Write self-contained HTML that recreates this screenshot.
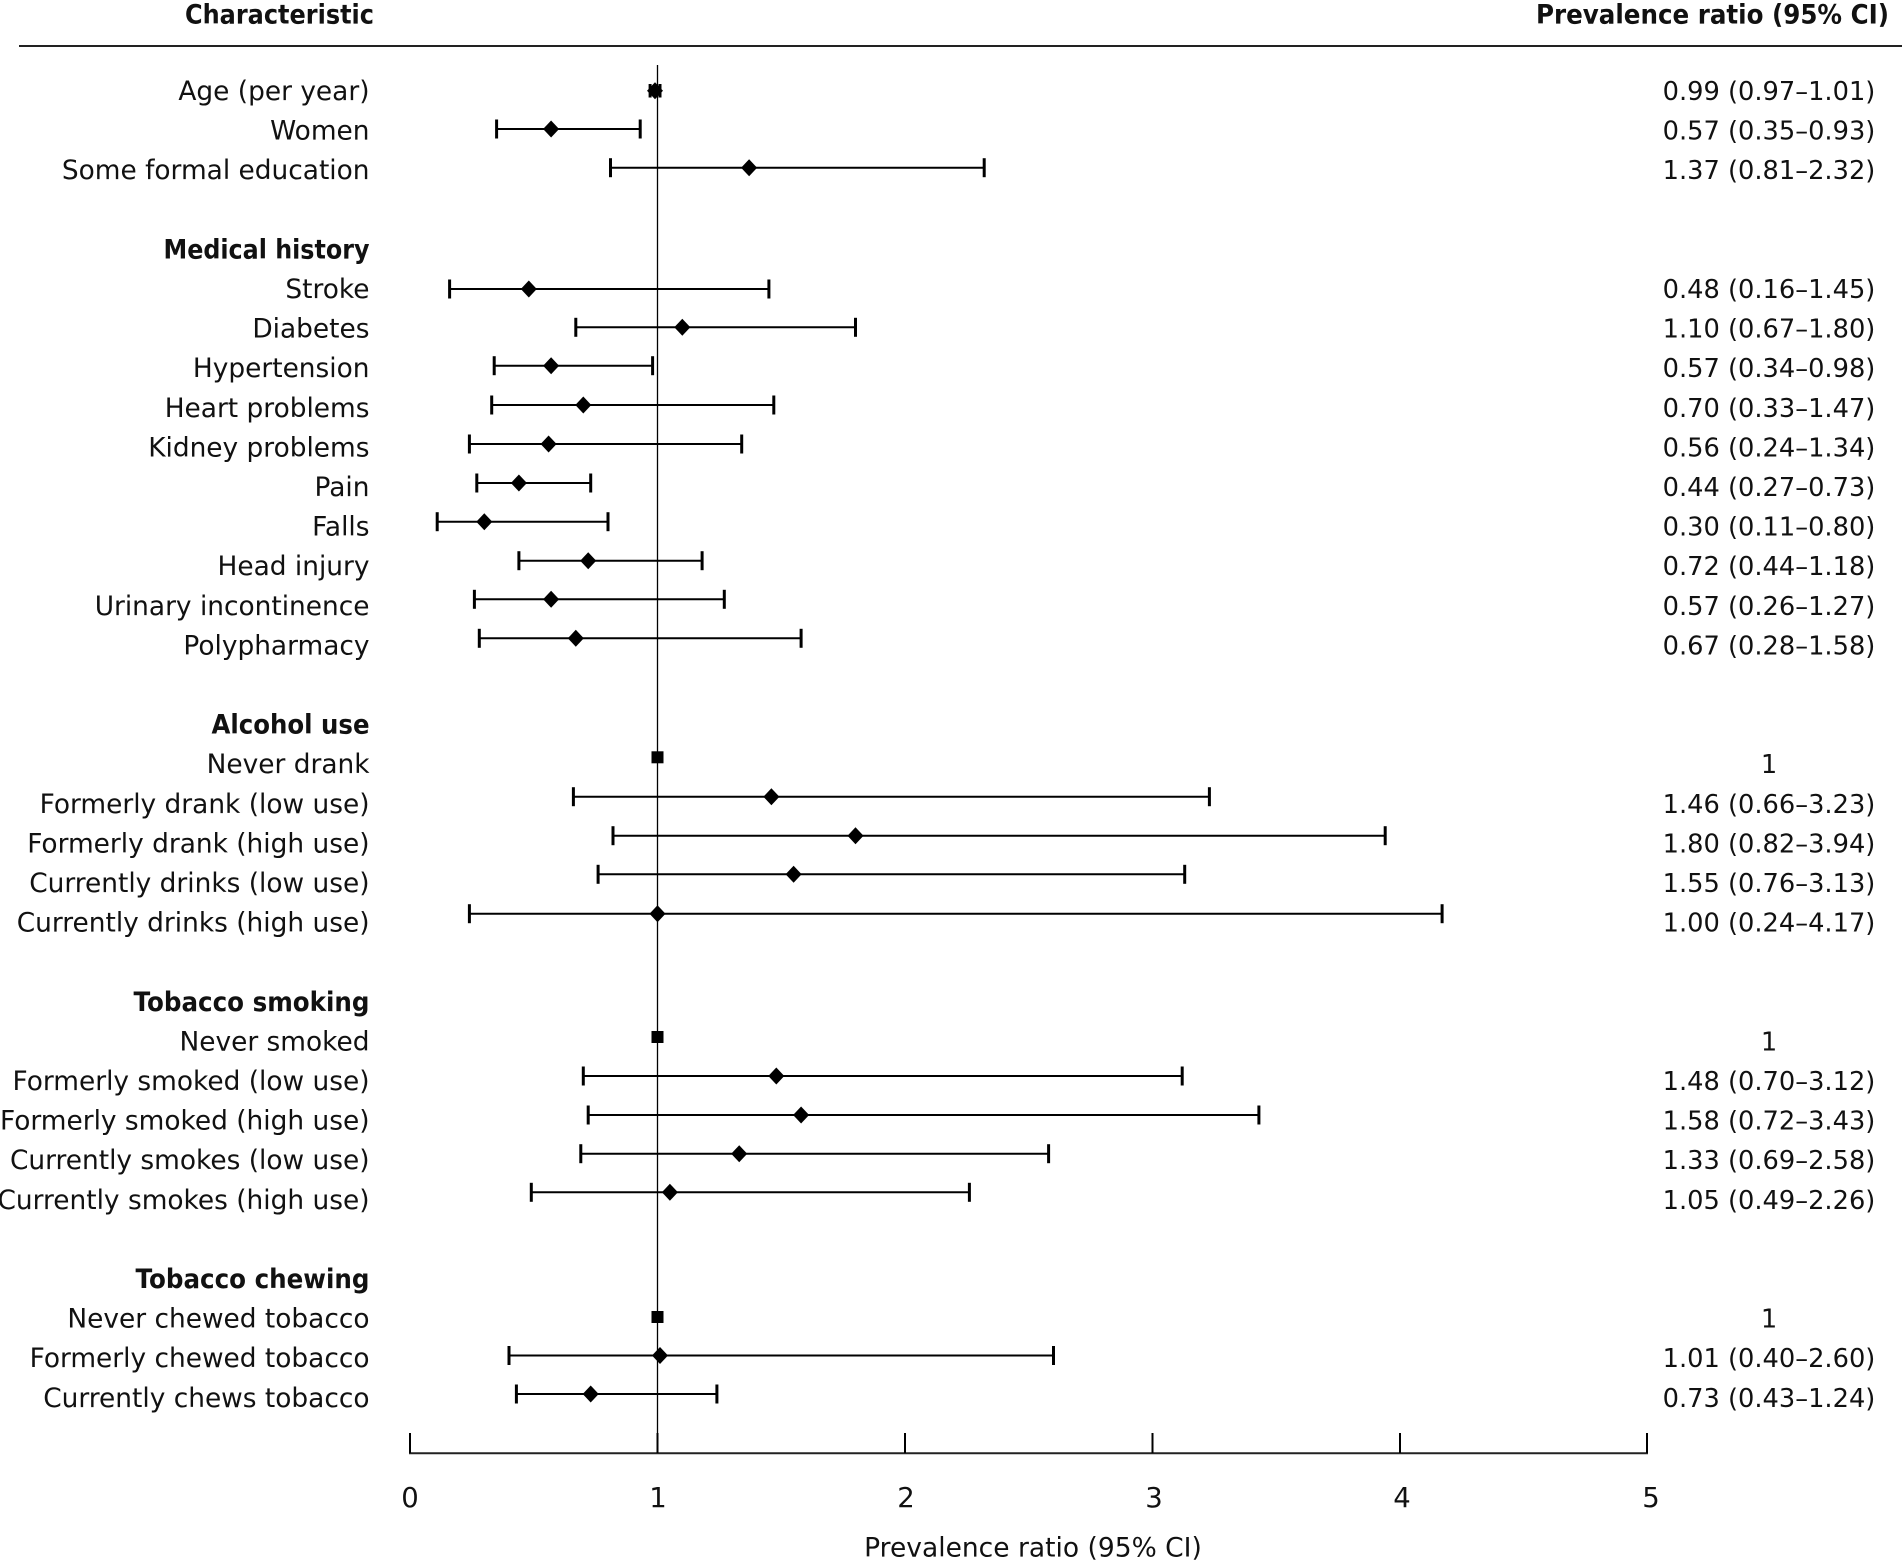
<!DOCTYPE html>
<html><head><meta charset="utf-8"><style>
html,body{margin:0;padding:0;background:#fff;}
svg{display:block;}
text{font-family:"DejaVu Sans","Liberation Sans",sans-serif;fill:#111;}
.l{font-size:26.4px;text-anchor:end;}
.b{font-size:26.5px;font-weight:bold;}
.v{font-size:25.7px;text-anchor:middle;}
.at{font-size:26.5px;text-anchor:middle;}
.t{font-size:27.5px;text-anchor:middle;}
.bar{stroke:#000;stroke-width:2;}
.cap{stroke:#000;stroke-width:3;}
</style></head><body>
<svg width="1902" height="1563" viewBox="0 0 1902 1563" xmlns="http://www.w3.org/2000/svg">
<!-- headers -->
<text class="b" x="374" y="23.3" text-anchor="end" textLength="189" lengthAdjust="spacingAndGlyphs">Characteristic</text>
<text class="b" x="1536" y="23.3" textLength="353" lengthAdjust="spacingAndGlyphs">Prevalence ratio (95% CI)</text>
<line x1="19" y1="46" x2="1902" y2="46" stroke="#222" stroke-width="2"/>

<!-- reference line -->
<line x1="657.5" y1="65" x2="657.5" y2="1453" stroke="#000" stroke-width="1.3"/>

<!-- axis -->
<line x1="409" y1="1453.3" x2="1648" y2="1453.3" stroke="#222" stroke-width="2"/>
<g stroke="#000" stroke-width="2">
<line x1="410" y1="1433" x2="410" y2="1453"/>
<line x1="657.5" y1="1433" x2="657.5" y2="1453"/>
<line x1="905" y1="1433" x2="905" y2="1453"/>
<line x1="1152.5" y1="1433" x2="1152.5" y2="1453"/>
<line x1="1400" y1="1433" x2="1400" y2="1453"/>
<line x1="1647" y1="1433" x2="1647" y2="1453"/>
</g>
<text class="t" x="410" y="1507">0</text>
<text class="t" x="658" y="1507">1</text>
<text class="t" x="906" y="1507">2</text>
<text class="t" x="1154" y="1507">3</text>
<text class="t" x="1402" y="1507">4</text>
<text class="t" x="1651" y="1507">5</text>
<text class="at" x="1033" y="1556.7">Prevalence ratio (95% CI)</text>

<!-- labels -->
<text class="l" x="369.5" y="100">Age (per year)</text>
<text class="l" x="369.5" y="139.6">Women</text>
<text class="l" x="369.5" y="179.2">Some formal education</text>
<text class="b" x="369.5" y="258.4" text-anchor="end" textLength="206" lengthAdjust="spacingAndGlyphs">Medical history</text>
<text class="l" x="369.5" y="298">Stroke</text>
<text class="l" x="369.5" y="337.6">Diabetes</text>
<text class="l" x="369.5" y="377.2">Hypertension</text>
<text class="l" x="369.5" y="416.8">Heart problems</text>
<text class="l" x="369.5" y="456.4">Kidney problems</text>
<text class="l" x="369.5" y="496">Pain</text>
<text class="l" x="369.5" y="535.6">Falls</text>
<text class="l" x="369.5" y="575.2">Head injury</text>
<text class="l" x="369.5" y="614.8">Urinary incontinence</text>
<text class="l" x="369.5" y="654.4">Polypharmacy</text>
<text class="b" x="369.5" y="733.6" text-anchor="end" textLength="158" lengthAdjust="spacingAndGlyphs">Alcohol use</text>
<text class="l" x="369.5" y="773.2">Never drank</text>
<text class="l" x="369.5" y="812.8">Formerly drank (low use)</text>
<text class="l" x="369.5" y="852.4">Formerly drank (high use)</text>
<text class="l" x="369.5" y="892">Currently drinks (low use)</text>
<text class="l" x="369.5" y="931.6">Currently drinks (high use)</text>
<text class="b" x="369.5" y="1010.8" text-anchor="end" textLength="236" lengthAdjust="spacingAndGlyphs">Tobacco smoking</text>
<text class="l" x="369.5" y="1050.4">Never smoked</text>
<text class="l" x="369.5" y="1090">Formerly smoked (low use)</text>
<text class="l" x="369.5" y="1129.6">Formerly smoked (high use)</text>
<text class="l" x="369.5" y="1169.2">Currently smokes (low use)</text>
<text class="l" x="369.5" y="1208.8">Currently smokes (high use)</text>
<text class="b" x="369.5" y="1288" text-anchor="end" textLength="234" lengthAdjust="spacingAndGlyphs">Tobacco chewing</text>
<text class="l" x="369.5" y="1327.6">Never chewed tobacco</text>
<text class="l" x="369.5" y="1367.2">Formerly chewed tobacco</text>
<text class="l" x="369.5" y="1406.8">Currently chews tobacco</text>

<!-- values -->
<text class="v" x="1769" y="100">0.99 (0.97–1.01)</text>
<text class="v" x="1769" y="139.6">0.57 (0.35–0.93)</text>
<text class="v" x="1769" y="179.2">1.37 (0.81–2.32)</text>
<text class="v" x="1769" y="298">0.48 (0.16–1.45)</text>
<text class="v" x="1769" y="337.6">1.10 (0.67–1.80)</text>
<text class="v" x="1769" y="377.2">0.57 (0.34–0.98)</text>
<text class="v" x="1769" y="416.8">0.70 (0.33–1.47)</text>
<text class="v" x="1769" y="456.4">0.56 (0.24–1.34)</text>
<text class="v" x="1769" y="496">0.44 (0.27–0.73)</text>
<text class="v" x="1769" y="535.6">0.30 (0.11–0.80)</text>
<text class="v" x="1769" y="575.2">0.72 (0.44–1.18)</text>
<text class="v" x="1769" y="614.8">0.57 (0.26–1.27)</text>
<text class="v" x="1769" y="654.4">0.67 (0.28–1.58)</text>
<text class="v" x="1769" y="773.2">1</text>
<text class="v" x="1769" y="812.8">1.46 (0.66–3.23)</text>
<text class="v" x="1769" y="852.4">1.80 (0.82–3.94)</text>
<text class="v" x="1769" y="892">1.55 (0.76–3.13)</text>
<text class="v" x="1769" y="931.6">1.00 (0.24–4.17)</text>
<text class="v" x="1769" y="1050.4">1</text>
<text class="v" x="1769" y="1090">1.48 (0.70–3.12)</text>
<text class="v" x="1769" y="1129.6">1.58 (0.72–3.43)</text>
<text class="v" x="1769" y="1169.2">1.33 (0.69–2.58)</text>
<text class="v" x="1769" y="1208.8">1.05 (0.49–2.26)</text>
<text class="v" x="1769" y="1327.6">1</text>
<text class="v" x="1769" y="1367.2">1.01 (0.40–2.60)</text>
<text class="v" x="1769" y="1406.8">0.73 (0.43–1.24)</text>

<!-- error bars -->
<g>
<line class="bar" x1="650.1" y1="90.7" x2="660" y2="90.7"/>
<line class="cap" x1="650.1" y1="84" x2="650.1" y2="97.5"/><line class="cap" x1="660" y1="84" x2="660" y2="97.5"/>
<path d="M655,82.2 L663,90.7 L655,99.2 L647,90.7 Z"/>
<line class="bar" x1="496.6" y1="129" x2="640.2" y2="129"/>
<line class="cap" x1="496.6" y1="119.5" x2="496.6" y2="138.5"/><line class="cap" x1="640.2" y1="119.5" x2="640.2" y2="138.5"/>
<path d="M551.1,120.5 L559.1,129 L551.1,137.5 L543.1,129 Z"/>
<line class="bar" x1="610.5" y1="167.7" x2="984.2" y2="167.7"/>
<line class="cap" x1="610.5" y1="158.2" x2="610.5" y2="177.2"/><line class="cap" x1="984.2" y1="158.2" x2="984.2" y2="177.2"/>
<path d="M749.1,159.2 L757.1,167.7 L749.1,176.2 L741.1,167.7 Z"/>
<line class="bar" x1="449.6" y1="289" x2="768.9" y2="289"/>
<line class="cap" x1="449.6" y1="279.5" x2="449.6" y2="298.5"/><line class="cap" x1="768.9" y1="279.5" x2="768.9" y2="298.5"/>
<path d="M528.8,280.5 L536.8,289 L528.8,297.5 L520.8,289 Z"/>
<line class="bar" x1="575.8" y1="327.3" x2="855.5" y2="327.3"/>
<line class="cap" x1="575.8" y1="317.8" x2="575.8" y2="336.8"/><line class="cap" x1="855.5" y1="317.8" x2="855.5" y2="336.8"/>
<path d="M682.3,318.8 L690.3,327.3 L682.3,335.8 L674.3,327.3 Z"/>
<line class="bar" x1="494.2" y1="365.7" x2="652.6" y2="365.7"/>
<line class="cap" x1="494.2" y1="356.2" x2="494.2" y2="375.2"/><line class="cap" x1="652.6" y1="356.2" x2="652.6" y2="375.2"/>
<path d="M551.1,357.2 L559.1,365.7 L551.1,374.2 L543.1,365.7 Z"/>
<line class="bar" x1="491.7" y1="405" x2="773.8" y2="405"/>
<line class="cap" x1="491.7" y1="395.5" x2="491.7" y2="414.5"/><line class="cap" x1="773.8" y1="395.5" x2="773.8" y2="414.5"/>
<path d="M583.3,396.5 L591.3,405 L583.3,413.5 L575.3,405 Z"/>
<line class="bar" x1="469.4" y1="444" x2="741.7" y2="444"/>
<line class="cap" x1="469.4" y1="434.5" x2="469.4" y2="453.5"/><line class="cap" x1="741.7" y1="434.5" x2="741.7" y2="453.5"/>
<path d="M548.6,435.5 L556.6,444 L548.6,452.5 L540.6,444 Z"/>
<line class="bar" x1="476.8" y1="483" x2="590.7" y2="483"/>
<line class="cap" x1="476.8" y1="473.5" x2="476.8" y2="492.5"/><line class="cap" x1="590.7" y1="473.5" x2="590.7" y2="492.5"/>
<path d="M518.9,474.5 L526.9,483 L518.9,491.5 L510.9,483 Z"/>
<line class="bar" x1="437.2" y1="521.7" x2="608" y2="521.7"/>
<line class="cap" x1="437.2" y1="512.2" x2="437.2" y2="531.2"/><line class="cap" x1="608" y1="512.2" x2="608" y2="531.2"/>
<path d="M484.3,513.2 L492.3,521.7 L484.3,530.2 L476.3,521.7 Z"/>
<line class="bar" x1="518.9" y1="560.7" x2="702.1" y2="560.7"/>
<line class="cap" x1="518.9" y1="551.2" x2="518.9" y2="570.2"/><line class="cap" x1="702.1" y1="551.2" x2="702.1" y2="570.2"/>
<path d="M588.2,552.2 L596.2,560.7 L588.2,569.2 L580.2,560.7 Z"/>
<line class="bar" x1="474.4" y1="599.3" x2="724.3" y2="599.3"/>
<line class="cap" x1="474.4" y1="589.8" x2="474.4" y2="608.8"/><line class="cap" x1="724.3" y1="589.8" x2="724.3" y2="608.8"/>
<path d="M551.1,590.8 L559.1,599.3 L551.1,607.8 L543.1,599.3 Z"/>
<line class="bar" x1="479.3" y1="638.3" x2="801.1" y2="638.3"/>
<line class="cap" x1="479.3" y1="628.8" x2="479.3" y2="647.8"/><line class="cap" x1="801.1" y1="628.8" x2="801.1" y2="647.8"/>
<path d="M575.8,629.8 L583.8,638.3 L575.8,646.8 L567.8,638.3 Z"/>
<rect x="651.5" y="751.3" width="12" height="12"/>
<line class="bar" x1="573.4" y1="796.7" x2="1209.4" y2="796.7"/>
<line class="cap" x1="573.4" y1="787.2" x2="573.4" y2="806.2"/><line class="cap" x1="1209.4" y1="787.2" x2="1209.4" y2="806.2"/>
<path d="M771.4,788.2 L779.4,796.7 L771.4,805.2 L763.4,796.7 Z"/>
<line class="bar" x1="613" y1="835.7" x2="1385.2" y2="835.7"/>
<line class="cap" x1="613" y1="826.2" x2="613" y2="845.2"/><line class="cap" x1="1385.2" y1="826.2" x2="1385.2" y2="845.2"/>
<path d="M855.5,827.2 L863.5,835.7 L855.5,844.2 L847.5,835.7 Z"/>
<line class="bar" x1="598.1" y1="874.3" x2="1184.7" y2="874.3"/>
<line class="cap" x1="598.1" y1="864.8" x2="598.1" y2="883.8"/><line class="cap" x1="1184.7" y1="864.8" x2="1184.7" y2="883.8"/>
<path d="M793.6,865.8 L801.6,874.3 L793.6,882.8 L785.6,874.3 Z"/>
<line class="bar" x1="469.4" y1="913.7" x2="1442.1" y2="913.7"/>
<line class="cap" x1="469.4" y1="904.2" x2="469.4" y2="923.2"/><line class="cap" x1="1442.1" y1="904.2" x2="1442.1" y2="923.2"/>
<path d="M657.5,905.2 L665.5,913.7 L657.5,922.2 L649.5,913.7 Z"/>
<rect x="651.5" y="1031" width="12" height="12"/>
<line class="bar" x1="583.3" y1="1076" x2="1182.2" y2="1076"/>
<line class="cap" x1="583.3" y1="1066.5" x2="583.3" y2="1085.5"/><line class="cap" x1="1182.2" y1="1066.5" x2="1182.2" y2="1085.5"/>
<path d="M776.3,1067.5 L784.3,1076 L776.3,1084.5 L768.3,1076 Z"/>
<line class="bar" x1="588.2" y1="1115" x2="1258.9" y2="1115"/>
<line class="cap" x1="588.2" y1="1105.5" x2="588.2" y2="1124.5"/><line class="cap" x1="1258.9" y1="1105.5" x2="1258.9" y2="1124.5"/>
<path d="M801.1,1106.5 L809.1,1115 L801.1,1123.5 L793.1,1115 Z"/>
<line class="bar" x1="580.8" y1="1153.7" x2="1048.6" y2="1153.7"/>
<line class="cap" x1="580.8" y1="1144.2" x2="580.8" y2="1163.2"/><line class="cap" x1="1048.6" y1="1144.2" x2="1048.6" y2="1163.2"/>
<path d="M739.2,1145.2 L747.2,1153.7 L739.2,1162.2 L731.2,1153.7 Z"/>
<line class="bar" x1="531.3" y1="1192.3" x2="969.4" y2="1192.3"/>
<line class="cap" x1="531.3" y1="1182.8" x2="531.3" y2="1201.8"/><line class="cap" x1="969.4" y1="1182.8" x2="969.4" y2="1201.8"/>
<path d="M669.9,1183.8 L677.9,1192.3 L669.9,1200.8 L661.9,1192.3 Z"/>
<rect x="651.5" y="1311" width="12" height="12"/>
<line class="bar" x1="509" y1="1355.5" x2="1053.5" y2="1355.5"/>
<line class="cap" x1="509" y1="1346" x2="509" y2="1365"/><line class="cap" x1="1053.5" y1="1346" x2="1053.5" y2="1365"/>
<path d="M660,1347 L668,1355.5 L660,1364 L652,1355.5 Z"/>
<line class="bar" x1="516.4" y1="1394" x2="716.9" y2="1394"/>
<line class="cap" x1="516.4" y1="1384.5" x2="516.4" y2="1403.5"/><line class="cap" x1="716.9" y1="1384.5" x2="716.9" y2="1403.5"/>
<path d="M590.7,1385.5 L598.7,1394 L590.7,1402.5 L582.7,1394 Z"/>
</g>
</svg>
</body></html>
